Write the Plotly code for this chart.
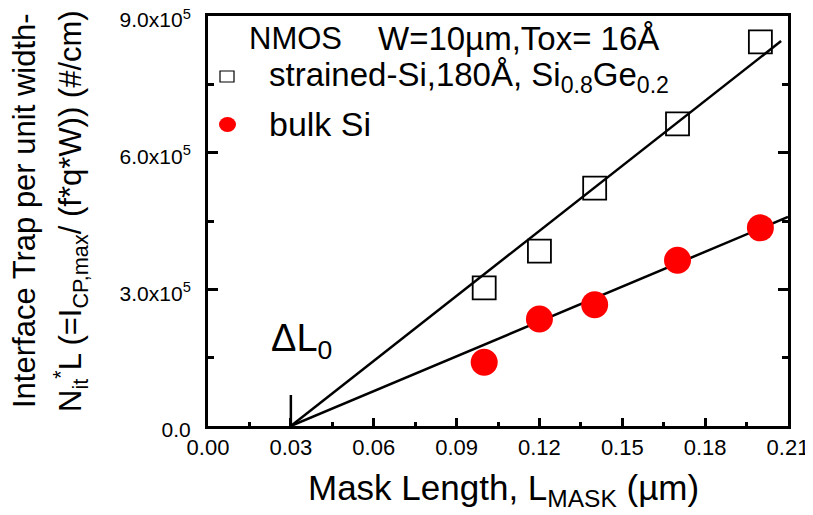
import plotly.graph_objects as go

# ---- data ----
x_len = [0.10, 0.12, 0.14, 0.17, 0.20]
strained_si = [3.03e5, 3.84e5, 5.22e5, 6.63e5, 8.43e5]
bulk_si = [1.40e5, 2.35e5, 2.66e5, 3.64e5, 4.35e5]

fit_strained_x = [0.03, 0.2075]
fit_strained_y = [0.0, 8.45e5]
fit_bulk_x = [0.03, 0.21]
fit_bulk_y = [0.0, 4.59e5]

dl0_x = [0.03, 0.03]
dl0_y = [0.0, 0.68e5]

x_ticks = [0.00, 0.03, 0.06, 0.09, 0.12, 0.15, 0.18, 0.21]
y_ticks = [0, 3e5, 6e5, 9e5]
y_ticktext = ["0.0", "3.0x10<sup>5</sup>", "6.0x10<sup>5</sup>", "9.0x10<sup>5</sup>"]

FONT = "Arial, Liberation Sans, Helvetica, sans-serif"

# page has an 8px body margin
OFF = 8
W, H = 813 - OFF, 515 - OFF
L, R, T, B = 200, 25, 8, 89
PW, PH = W - L - R, H - T - B


def px(xp):
    # page pixel -> paper fraction
    return (xp - OFF - L) / PW


def py(yp):
    return (H - B - (yp - OFF)) / PH


fig = go.Figure()

fig.add_trace(go.Scatter(x=fit_strained_x, y=fit_strained_y, mode="lines",
                         line=dict(color="black", width=2.5), showlegend=False))
fig.add_trace(go.Scatter(x=fit_bulk_x, y=fit_bulk_y, mode="lines",
                         line=dict(color="black", width=2.5), showlegend=False))
fig.add_trace(go.Scatter(x=dl0_x, y=dl0_y, mode="lines",
                         line=dict(color="black", width=2.5), showlegend=False))
fig.add_trace(go.Scatter(x=x_len, y=strained_si, mode="markers",
                         marker=dict(symbol="square-open", size=23, color="black",
                                     line=dict(width=1.8)), showlegend=False))
fig.add_trace(go.Scatter(x=x_len, y=bulk_si, mode="markers",
                         marker=dict(symbol="circle", size=27, color="#ff0000",
                                     line=dict(width=0)), showlegend=False))

fig.update_layout(
    width=W, height=H,
    margin=dict(l=L, r=R, t=T, b=B, pad=0, autoexpand=False),
    paper_bgcolor="white", plot_bgcolor="white",
    font=dict(family=FONT, color="black"),
    showlegend=False,
    xaxis=dict(range=[0, 0.21], tickvals=x_ticks, tickformat=".2f",
               ticks="inside", ticklen=8, tickwidth=2.5, tickcolor="black",
               minor=dict(dtick=0.015, tick0=0, ticks="inside", ticklen=4,
                          tickwidth=2.5, tickcolor="black"),
               showline=True, linewidth=3, linecolor="black", mirror=True,
               showgrid=False, zeroline=False, ticklabeloverflow="allow",
               automargin=False,
               tickfont=dict(size=22, family=FONT), ticklabelstandoff=0),
    yaxis=dict(range=[0, 9e5], tickvals=y_ticks, ticktext=y_ticktext,
               ticks="inside", ticklen=10, tickwidth=2.5, tickcolor="black",
               minor=dict(dtick=1.5e5, tick0=0, ticks="inside", ticklen=6,
                          tickwidth=2.5, tickcolor="black"),
               showline=True, linewidth=3, linecolor="black", mirror="allticks",
               showgrid=False, zeroline=False, ticklabeloverflow="allow",
               automargin=False, ticklabelshift=4,
               tickfont=dict(size=21, family=FONT), ticklabelstandoff=10),
)

annotations = [
    # y-axis title (two lines)
    dict(text="Interface Trap per unit width-", x=px(24), y=py(211),
         textangle=-90, font=dict(size=31)),
    dict(text="N<sub>it</sub><sup>*</sup>L (=I<sub>CP,max</sub>/ (f*q*W)) (#/cm)",
         x=px(70), y=py(211), textangle=-90, font=dict(size=31)),
    # x-axis title
    dict(text="Mask Length, L<sub>MASK</sub> (µm)", x=px(503), y=py(490),
         font=dict(size=35)),
    # legend title
    dict(text="NMOS", x=px(247), y=py(38), xanchor="left", font=dict(size=31)),
    dict(text="W=10µm,Tox= 16Å", x=px(376), y=py(38), xanchor="left",
         font=dict(size=33)),
    # legend entries
    dict(text="strained-Si,180Å, Si<sub>0.8</sub>Ge<sub>0.2</sub>", x=px(267),
         y=py(77), xanchor="left", font=dict(size=33)),
    dict(text="bulk Si", x=px(267), y=py(124), xanchor="left", font=dict(size=34)),
    # delta L0
    dict(text="ΔL<sub>0</sub>", x=px(301), y=py(341), font=dict(size=38)),
]
for a in annotations:
    a.update(xref="paper", yref="paper", showarrow=False)
    if "xanchor" not in a:
        a["xanchor"] = "center"
    a["yanchor"] = "middle"
    a["font"]["family"] = FONT
    a["font"]["color"] = "black"
fig.update_layout(annotations=annotations)

# legend symbols
fig.add_shape(type="rect", xref="paper", yref="paper",
              x0=px(220), x1=px(234), y0=py(82), y1=py(71),
              line=dict(color="black", width=1.2), fillcolor="white")
fig.add_shape(type="circle", xref="paper", yref="paper",
              x0=px(219), x1=px(236), y0=py(132), y1=py(117),
              line=dict(color="#ff0000", width=0), fillcolor="#ff0000")

fig.write_html("out.html")
